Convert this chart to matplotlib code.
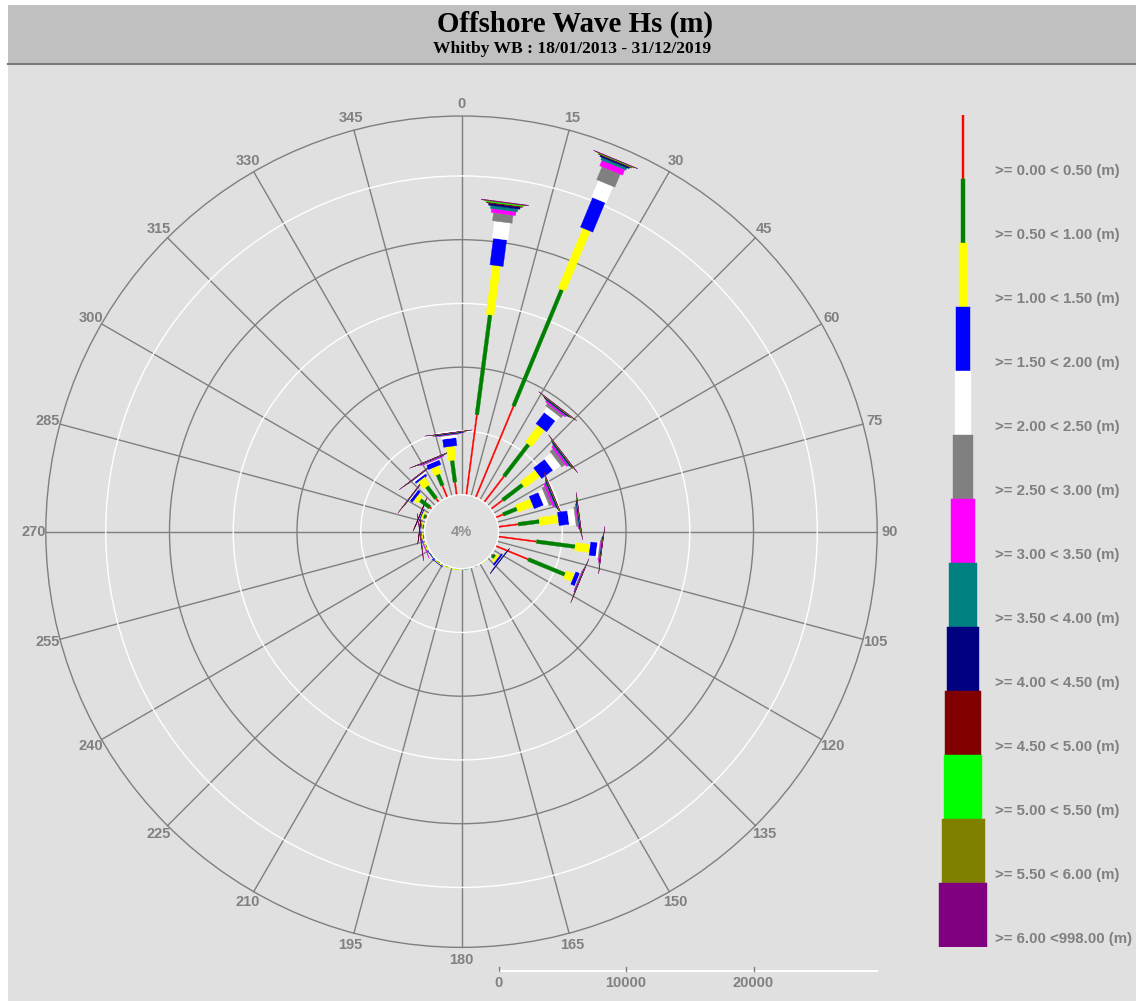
import numpy as np
import matplotlib
matplotlib.use("Agg")
import matplotlib.pyplot as plt
from matplotlib.patches import Polygon, Rectangle, Circle

plt.rcParams["font.family"] = ["Liberation Sans", "DejaVu Sans"]

# ---------------- data ----------------
directions = [7.5 + 15 * k for k in range(24)]          # sector centres (deg)
grid_angles = list(range(0, 360, 15))

class_labels = [">= 0.00 < 0.50 (m)", ">= 0.50 < 1.00 (m)", ">= 1.00 < 1.50 (m)",
                ">= 1.50 < 2.00 (m)", ">= 2.00 < 2.50 (m)", ">= 2.50 < 3.00 (m)",
                ">= 3.00 < 3.50 (m)", ">= 3.50 < 4.00 (m)", ">= 4.00 < 4.50 (m)",
                ">= 4.50 < 5.00 (m)", ">= 5.00 < 5.50 (m)", ">= 5.50 < 6.00 (m)",
                ">= 6.00 <998.00 (m)"]
class_colors = ["#FF0000", "#008000", "#FFFF00", "#0000FF", "#FFFFFF", "#808080",
                "#FF00FF", "#008080", "#000080", "#800000", "#00FF00", "#808000", "#800080"]

hs_000_050 = [6350, 7765, 2590, 1180, 630, 1590, 3040, 2770, 160, 20, 20, 30, 40, 40, 40, 40, 40, 80, 80, 120, 235, 390, 1020, 1020]
hs_050_100 = [7900, 9880, 3140, 1960, 1180, 1665, 3040, 3110, 235, 20, 20, 30, 60, 60, 80, 60, 80, 80, 120, 195, 940, 1180, 940, 1725]
hs_100_150 = [3900, 5100, 1650, 1490, 1255, 1505, 1180, 710, 235, 10, 0, 0, 10, 10, 80, 20, 80, 80, 80, 155, 390, 705, 630, 1100]
hs_150_200 = [2100, 2510, 1100, 1100, 785, 790, 530, 340, 160, 0, 0, 0, 0, 0, 5, 5, 20, 40, 40, 80, 235, 160, 390, 630]
hs_200_250 = [1350, 1410, 470, 705, 390, 530, 190, 60, 40, 0, 0, 0, 0, 0, 0, 0, 10, 20, 20, 30, 80, 160, 80, 235]
hs_250_300 = [630, 1100, 235, 315, 235, 130, 60, 40, 20, 0, 0, 0, 0, 0, 0, 0, 5, 10, 10, 10, 15, 20, 40, 40]
hs_300_350 = [310, 470, 120, 160, 160, 70, 60, 50, 10, 0, 0, 0, 0, 0, 0, 0, 5, 10, 10, 10, 10, 20, 80, 40]
hs_350_400 = [230, 200, 60, 80, 80, 50, 40, 30, 10, 0, 0, 0, 0, 0, 0, 0, 0, 5, 5, 5, 10, 10, 20, 20]
hs_400_450 = [160, 120, 50, 60, 60, 40, 20, 20, 30, 0, 0, 0, 0, 0, 0, 0, 0, 5, 15, 20, 15, 20, 30, 60]
hs_450_500 = [80, 60, 40, 40, 40, 25, 15, 5, 0, 0, 0, 0, 0, 0, 0, 0, 0, 3, 3, 5, 5, 5, 10, 10]
hs_500_550 = [80, 40, 25, 25, 25, 20, 10, 5, 0, 0, 0, 0, 0, 0, 0, 0, 0, 2, 0, 0, 5, 5, 5, 10]
hs_550_600 = [40, 30, 15, 20, 20, 10, 5, 5, 0, 0, 0, 0, 0, 0, 0, 0, 0, 2, 0, 0, 5, 5, 5, 10]
hs_600_up = [40, 20, 10, 10, 10, 5, 5, 5, 0, 0, 0, 0, 0, 0, 0, 0, 0, 20, 0, 0, 5, 5, 5, 5]

series = [hs_000_050, hs_050_100, hs_100_150, hs_150_200, hs_200_250, hs_250_300,
          hs_300_350, hs_350_400, hs_400_450, hs_450_500, hs_500_550, hs_550_600, hs_600_up]

ring_values = [5000, 10000, 15000, 20000, 25000]
outer_value = 29700
axis_ticks = [0, 10000, 20000]
calm_label = "4%"

# ---------------- layout ----------------
W, H = 1136, 1001
CX, CY = 461.5, 531.7          # rose centre in pixels (from top-left)
PX = 0.01275                   # pixels per count
HOLE = 37 / PX                 # centre hole radius in counts
bar_px = [1.3, 3.7, 8, 13.3, 15.7, 19.7, 24.7, 27.3, 31.7, 36.3, 38.3, 43, 47.7]
TXT = "#808080"

fig = plt.figure(figsize=(W / 100, H / 100), dpi=100, facecolor="white")

bg = fig.add_axes([0, 0, 1, 1])
bg.set_xlim(0, W)
bg.set_ylim(H, 0)
bg.axis("off")
bg.add_patch(Rectangle((8, 5), W - 8, H - 5, fc="#E0E0E0", ec="none"))
bg.add_patch(Rectangle((8, 5), W - 8, 58, fc="#C0C0C0", ec="none"))
bg.plot([8, W], [63.5, 63.5], color="#7a7a7a", lw=1.5)
bg.text(575, 32, "Offshore Wave Hs (m)", ha="center", va="baseline",
        fontsize=20.8, fontweight="bold", family="Liberation Serif", color="black")
bg.text(572, 53, "Whitby WB : 18/01/2013 - 31/12/2019", ha="center", va="baseline",
        fontsize=12.6, fontweight="bold", family="Liberation Serif", color="black")

# rose axes, data units = counts
ax = fig.add_axes([0, 0, 1, 1])
ax.set_xlim(-CX / PX, (W - CX) / PX)
ax.set_ylim(-(H - CY) / PX, CY / PX)
ax.axis("off")
ax.patch.set_alpha(0)

R_OUT = HOLE + outer_value
for a in grid_angles:
    t = np.radians(a)
    ax.plot([HOLE * np.sin(t), R_OUT * np.sin(t)], [HOLE * np.cos(t), R_OUT * np.cos(t)],
            color="#7f7f7f", lw=1.0, zorder=1)
for v in ring_values:
    col = "#7f7f7f" if v % 10000 == 0 else "white"
    ax.add_patch(Circle((0, 0), HOLE + v, fc="none", ec=col, lw=1.0, zorder=1))
ax.add_patch(Circle((0, 0), R_OUT, fc="none", ec="#7f7f7f", lw=1.0, zorder=1))

for i, d in enumerate(directions):
    t = np.radians(d)
    u = np.array([np.sin(t), np.cos(t)])
    n = np.array([np.cos(t), -np.sin(t)])
    r0 = HOLE
    for j, s in enumerate(series):
        c = s[i]
        if c <= 0:
            continue
        r1 = r0 + c
        hw = bar_px[j] / PX / 2
        pts = [r0 * u - hw * n, r1 * u - hw * n, r1 * u + hw * n, r0 * u + hw * n]
        ax.add_patch(Polygon(pts, closed=True, fc=class_colors[j], ec=class_colors[j],
                             lw=0.25, zorder=3))
        r0 = r1

ax.add_patch(Circle((0, 0), HOLE, fc="#E0E0E0", ec="white", lw=1.0, zorder=4))
ax.text(0, 0, calm_label, ha="center", va="center", fontsize=10.5, fontweight="bold",
        color="#909090", zorder=5)

LR = 428 / PX
for a in grid_angles:
    t = np.radians(a)
    ax.text(LR * np.sin(t), LR * np.cos(t), str(a), ha="center", va="center",
            fontsize=10.5, fontweight="bold", color=TXT)

# bottom count axis
y_axis = -(970.7 - CY) / PX
ax.plot([HOLE, R_OUT], [y_axis, y_axis], color="white", lw=1.5, zorder=2)
for tv in axis_ticks:
    ax.plot([HOLE + tv, HOLE + tv], [y_axis, y_axis + 4 / PX], color="#7f7f7f", lw=1, zorder=2)
    ax.text(HOLE + tv, -(983 - CY) / PX, str(tv), ha="center", va="center",
            fontsize=10.5, fontweight="bold", color=TXT)

# legend
TOP, SEG = 115, 64
lg = fig.add_axes([928 / W, 1 - (TOP + SEG * 13) / H, 70 / W, SEG * 13 / H])
lg.set_xlim(-35, 35)
lg.set_ylim(13, 0)
lg.axis("off")
lg.patch.set_alpha(0)
for j, lab in enumerate(class_labels):
    w = bar_px[j]
    lg.add_patch(Rectangle((-w / 2, j), w, 1, fc=class_colors[j], ec=class_colors[j], lw=0.3))
    bg.text(995, TOP + SEG * (j + 1) - 8, lab, ha="left", va="center",
            fontsize=10.8, fontweight="bold", color=TXT)

fig.savefig("out.png", dpi=100, facecolor=fig.get_facecolor())
